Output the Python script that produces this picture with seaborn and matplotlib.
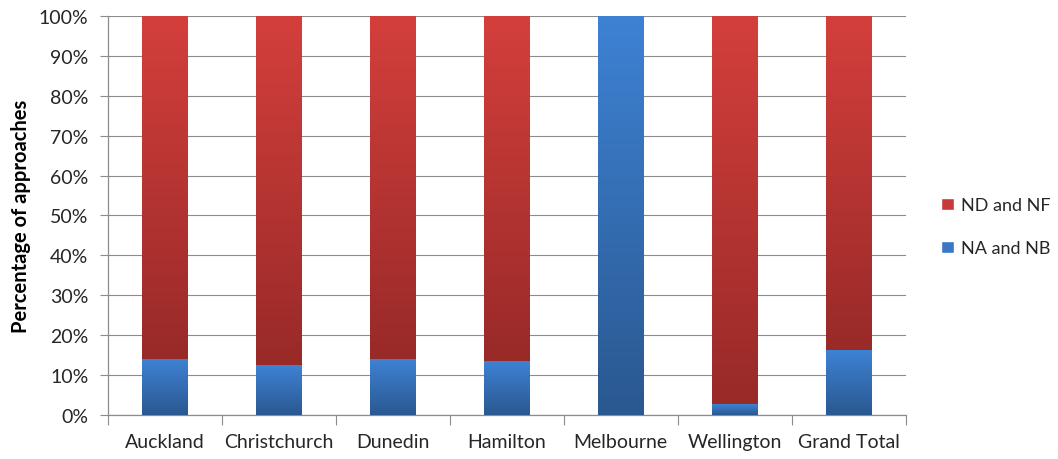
import numpy as np
import matplotlib
matplotlib.use("Agg")
import matplotlib.pyplot as plt
import seaborn as sns
from matplotlib.colors import LinearSegmentedColormap
from matplotlib.patches import Patch

# data (percent of approaches)
cities = ["Auckland", "Christchurch", "Dunedin", "Hamilton", "Melbourne", "Wellington", "Grand Total"]
na_nb = [14.0, 12.3, 14.0, 13.3, 100.0, 2.7, 16.1]
nd_nf = [86.0, 87.7, 86.0, 86.7, 0.0, 97.3, 83.9]
y_ticks = [0, 10, 20, 30, 40, 50, 60, 70, 80, 90, 100]

RED_LIGHT, RED_DARK = "#d43f3c", "#982a28"
BLUE_LIGHT, BLUE_DARK = "#3e82d4", "#2a5890"
GRID = "#8c8c8c"

sns.set_theme(style="white")
plt.rcParams["font.family"] = ["Lato", "DejaVu Sans"]

fig = plt.figure(figsize=(10.58, 4.6), dpi=100)
ax = fig.add_axes([0.102, 0.0957, 0.754, 0.8673])

totals = [a + b for a, b in zip(na_nb, nd_nf)]
sns.barplot(x=cities, y=totals, color=RED_LIGHT, width=0.4, ax=ax, zorder=3)
n_red = len(ax.patches)
sns.barplot(x=cities, y=na_nb, color=BLUE_LIGHT, width=0.4, ax=ax, zorder=4)

red_cmap = LinearSegmentedColormap.from_list("red", [RED_DARK, RED_LIGHT])
blue_cmap = LinearSegmentedColormap.from_list("blue", [BLUE_DARK, BLUE_LIGHT])
grad = np.linspace(0, 1, 256).reshape(-1, 1)

# replace flat fills with vertical gradients (Excel style)
for i, p in enumerate(list(ax.patches)):
    x, w = p.get_x(), p.get_width()
    h = p.get_height()
    if h <= 0:
        continue
    if i < n_red:
        bottom = na_nb[i]
        top = totals[i]
        cmap, z = red_cmap, 3
    else:
        bottom, top = 0, h
        cmap, z = blue_cmap, 4
    if top - bottom <= 0:
        p.set_visible(False)
        continue
    ax.imshow(grad, extent=[x, x + w, bottom, top], origin="lower",
              aspect="auto", cmap=cmap, zorder=z, interpolation="bicubic")
    p.set_visible(False)

ax.set_xlim(-0.5, len(cities) - 0.5)
ax.set_ylim(0, 100)
ax.set_yticks(y_ticks)
ax.set_yticklabels([f"{t}%" for t in y_ticks], fontsize=14, color="#262626")
ax.set_ylabel("Percentage of approaches", fontsize=14.5, fontweight="bold",
              color="black", labelpad=6)

ax.grid(axis="y", color=GRID, linewidth=0.8, zorder=0)
ax.set_axisbelow(True)
for s in ["top", "right"]:
    ax.spines[s].set_visible(False)
for s in ["left", "bottom"]:
    ax.spines[s].set_color(GRID)
    ax.spines[s].set_linewidth(0.9)

ax.tick_params(axis="y", which="major", direction="out", length=6, width=0.8,
               color=GRID, pad=8, left=True)
ax.tick_params(axis="x", which="major", length=0, pad=13, labelsize=14,
               labelcolor="#262626")
ax.set_xticks(np.arange(-0.5, len(cities), 1.0), minor=True)
ax.tick_params(axis="x", which="minor", direction="out", length=7, width=0.8,
               color=GRID, bottom=True)

handles = [Patch(facecolor="#c73a37", label="ND and NF"),
           Patch(facecolor="#3a78c6", label="NA and NB")]
fig.legend(handles=handles, loc="center left", bbox_to_anchor=(0.874, 0.505),
           frameon=False, fontsize=13, labelspacing=1.5, handlelength=0.7,
           handleheight=0.7, handletextpad=0.4, labelcolor="#262626")

fig.savefig("out.png", dpi=100)
